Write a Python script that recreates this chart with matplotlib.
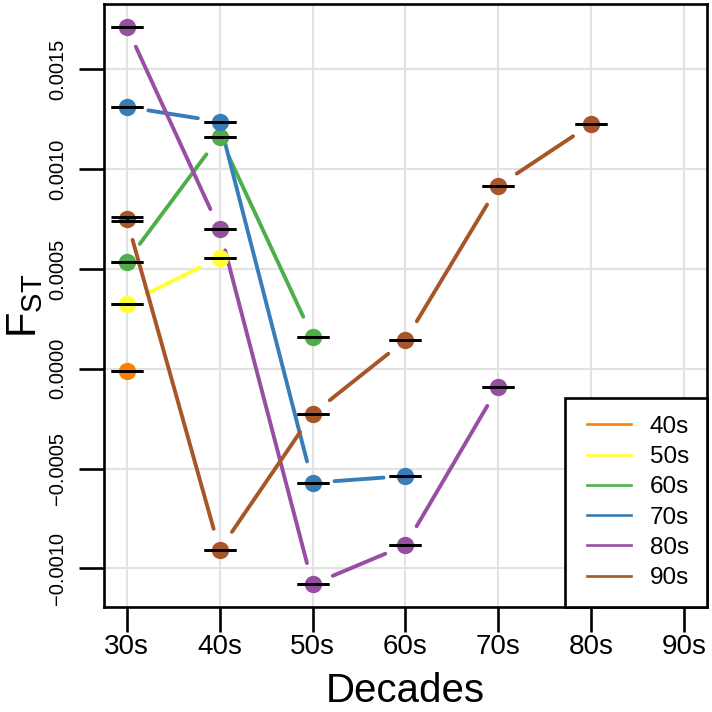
import matplotlib
matplotlib.use('Agg')
import matplotlib.pyplot as plt
from matplotlib.lines import Line2D
from matplotlib.legend_handler import HandlerLine2D
import numpy as np

plt.rcParams['font.family'] = ['Liberation Sans', 'DejaVu Sans']
plt.rcParams['mathtext.fontset'] = 'custom'
plt.rcParams['mathtext.rm'] = 'Liberation Sans'
plt.rcParams['mathtext.it'] = 'Liberation Sans:italic'
plt.rcParams['axes.unicode_minus'] = True

# ---- data ----
decades = ['30s', '40s', '50s', '60s', '70s', '80s', '90s']
series_names = ['40s', '50s', '60s', '70s', '80s', '90s']
series_colors = ['#FF7F00', '#FFFF33', '#4DAF4A', '#377EB8', '#984EA3', '#A65628']

fst_40s = [-0.000011]
fst_50s = [0.000326, 0.000557]
fst_60s = [0.000537, 0.001163, 0.000161]
fst_70s = [0.001312, 0.001238, -0.000571, -0.000537]
fst_80s = [0.001714, 0.000700, -0.001080, -0.000884, -0.000091]
fst_90s = [0.000752, -0.000908, -0.000226, 0.000144, 0.000917, 0.001226]

err_40s = [0.0]
err_50s = [0.0, 0.0]
err_60s = [0.0, 0.0, 0.0]
err_70s = [0.0, 0.0, 0.0, 0.0]
err_80s = [0.0, 0.0, 0.0, 0.0, 0.0]
err_90s = [0.00001, 0.0, 0.0, 0.0, 0.0, 0.0]

yticks = [-0.0010, -0.0005, 0.0000, 0.0005, 0.0010, 0.0015]

all_series = [fst_40s, fst_50s, fst_60s, fst_70s, fst_80s, fst_90s]
all_errs = [err_40s, err_50s, err_60s, err_70s, err_80s, err_90s]

# ---- figure ----
fig = plt.figure(figsize=(7.12, 7.12), dpi=100)
ax = fig.add_axes([0.1465, 0.1479, 0.846, 0.846])
ax.set_xlim(0.76, 7.24)
ax.set_ylim(-0.001192, 0.001826)

ax.set_axisbelow(True)
ax.grid(True, color='#E2E2E2', lw=1.5)

gap = 22.0  # pixels
lw = 2.8
for vals, col in zip(all_series, series_colors):
    x = np.arange(1, len(vals) + 1)
    disp = ax.transData.transform(np.column_stack([x, vals]))
    inv = ax.transData.inverted()
    for i in range(len(vals) - 1):
        p0, p1 = disp[i], disp[i + 1]
        d = p1 - p0
        L = np.hypot(*d)
        if L <= 2 * gap:
            continue
        u = d / L
        a = inv.transform(p0 + u * gap)
        b = inv.transform(p1 - u * gap)
        ax.plot([a[0], b[0]], [a[1], b[1]], color=col, lw=lw,
                solid_capstyle='round', zorder=2)
    ax.plot(x, vals, 'o', ms=12.5, color=col, mec='none', zorder=3)

for vals, errs in zip(all_series, all_errs):
    x = np.arange(1, len(vals) + 1)
    ax.errorbar(x, vals, yerr=errs, fmt='none', ecolor='black',
                elinewidth=2.1, capsize=11.5, capthick=2.1, zorder=4)

ax.set_xticks(np.arange(1, len(decades) + 1))
ax.set_xticklabels(decades)
ax.set_yticks(yticks)
ax.set_yticklabels([('%.4f' % v).replace('-', '\u2212') for v in yticks])

ax.tick_params(axis='both', direction='out', length=18, width=1.9, color='black')
ax.tick_params(axis='x', labelsize=20, pad=2)
ax.tick_params(axis='y', labelsize=14.5, pad=9, labelrotation=90)
for t in ax.get_yticklabels():
    t.set_va('center')
    t.set_ha('right')

for s in ax.spines.values():
    s.set_linewidth(1.9)
    s.set_color('black')

ax.set_xlabel('Decades', fontsize=29)
ax.xaxis.set_label_coords(0.5, -0.1582)
ax.xaxis.label.set_va('baseline')

ax.set_ylabel(r'$\mathregular{F_{ST}}$', fontsize=30)
ax.yaxis.set_label_coords(-0.1134, 0.5)
ax.yaxis.label.set_va('baseline')

handles = [Line2D([0], [0], color=c, lw=1.9) for c in series_colors]
leg = ax.legend(handles, series_names, loc='lower right', borderaxespad=0,
                fontsize=17.5, frameon=True, fancybox=False, edgecolor='black',
                framealpha=1, borderpad=0.72, labelspacing=0.34,
                handlelength=2.15, handletextpad=0.62,
                handler_map={Line2D: HandlerLine2D(numpoints=2, marker_pad=0.17)})
leg.get_frame().set_linewidth(1.9)
leg.set_zorder(5)

fig.savefig('out.png', dpi=100)
